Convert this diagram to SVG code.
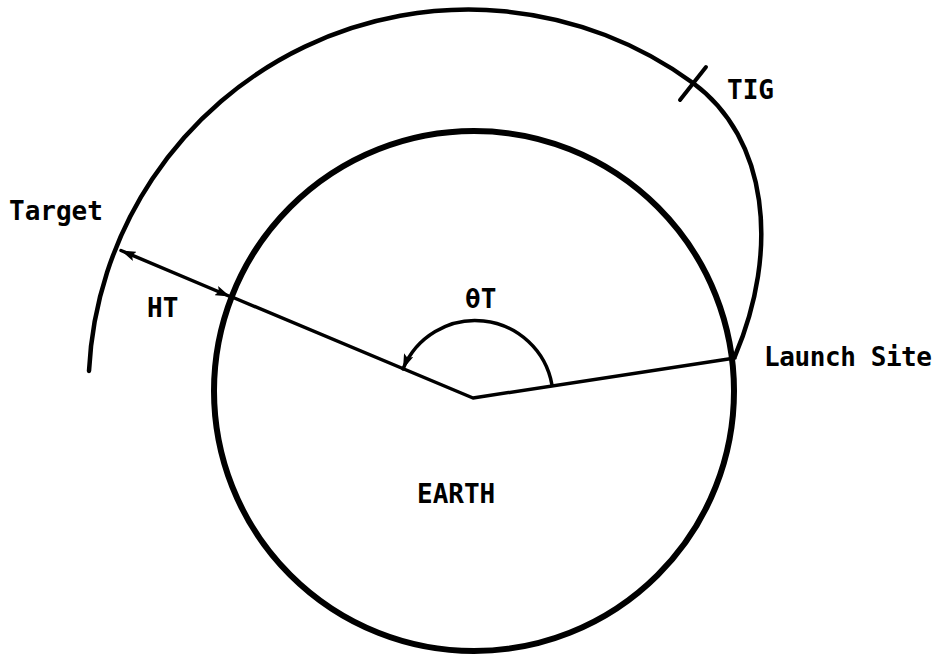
<svg xmlns="http://www.w3.org/2000/svg" width="940" height="654" viewBox="0 0 940 654">
  <defs>
    <style>
      .lbl { font-family: "DejaVu Sans Mono", "Liberation Mono", monospace; font-weight: bold; font-size: 26px; fill: #000; }
      .thin { fill: none; stroke: #000; stroke-width: 3.5; stroke-linecap: round; stroke-linejoin: round; }
    </style>
    <marker id="ah" viewBox="0 0 15 10" refX="15" refY="5" markerWidth="15" markerHeight="10" markerUnits="userSpaceOnUse" orient="auto">
      <path d="M0,0 L15,5 L0,10 L3,5 z" fill="#000"/>
    </marker>
    <marker id="ahs" viewBox="0 0 15 10" refX="0" refY="5" markerWidth="15" markerHeight="10" markerUnits="userSpaceOnUse" orient="auto">
      <path d="M15,0 L0,5 L15,10 L12,5 z" fill="#000"/>
    </marker>
  </defs>
  <rect width="940" height="654" fill="#fff"/>

  <g id="earth">
    <circle cx="474" cy="391" r="260" fill="none" stroke="#000" stroke-width="6"/>
    <text class="lbl" x="417" y="503">EARTH</text>
  </g>

  <g id="trajectory">
    <path d="M89,371 A380,380 0 0 1 693,83 C768,138 780,250 735,356" fill="none" stroke="#000" stroke-width="4.5" stroke-linecap="round"/>
  </g>

  <g id="tig">
    <line x1="706" y1="67" x2="680" y2="100" stroke="#000" stroke-width="4" stroke-linecap="round"/>
    <text class="lbl" x="727" y="99">TIG</text>
  </g>

  <g id="target">
    <text class="lbl" x="9" y="220">Target</text>
  </g>

  <g id="launch-site">
    <text class="lbl" x="764" y="366" textLength="168">Launch Site</text>
  </g>

  <g id="connectors">
    <polyline class="thin" points="232,297 473,398 735,358"/>
    <line class="thin" x1="121" y1="250.5" x2="230" y2="296.5" marker-start="url(#ahs)" marker-end="url(#ah)" stroke-linecap="butt"/>
    <path class="thin" d="M552,385 A78,78 0 0 0 403,369" marker-end="url(#ah)"/>
  </g>

  <g id="labels">
    <text class="lbl" x="147" y="317">HT</text>
    <text class="lbl" x="465" y="308">θT</text>
  </g>
</svg>
